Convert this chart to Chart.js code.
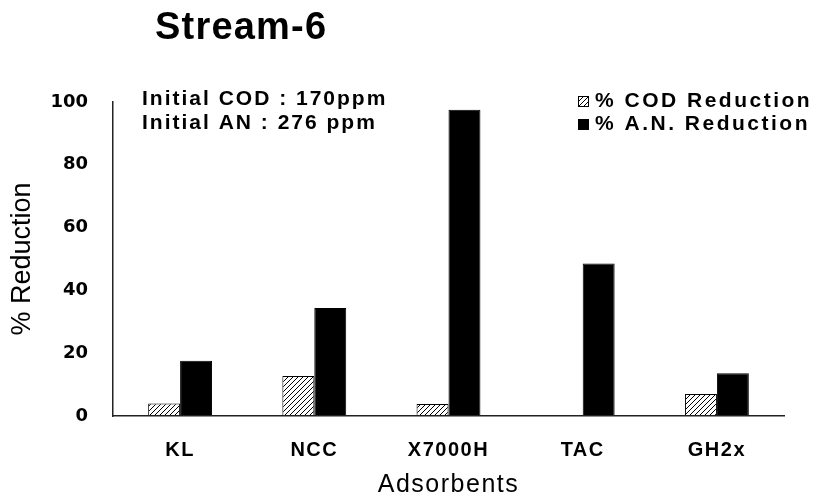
<!DOCTYPE html>
<html>
<head>
<meta charset="utf-8">
<title>Stream-6</title>
<script src="https://cdn.jsdelivr.net/npm/chart.js@4.4.1/dist/chart.umd.min.js"></script>
<style>
  html, body { margin: 0; padding: 0; background: #fff; }
  #wrap { width: 821px; height: 501px; position: relative; }
</style>
</head>
<body>
<div id="wrap"><canvas id="streamChart"></canvas></div>
<script>
const categories = ['KL', 'NCC', 'X7000H', 'TAC', 'GH2x'];
const codReduction = [4.0, 12.7, 3.8, 0, 7.0];
const anReduction = [17.6, 34.4, 97.5, 48.6, 13.6];
const yTicks = [0, 20, 40, 60, 80, 100];
const seriesLabels = ['% COD Reduction', '% A.N. Reduction'];
const chartTitle = 'Stream-6';
const noteLines = ['Initial COD : 170ppm', 'Initial AN : 276 ppm'];

// diagonal hatch like the old excel fill
function makeHatch() {
    const c = document.createElement('canvas');
    c.width = 5;
    c.height = 5;
    const g = c.getContext('2d');
    g.fillStyle = '#fff';
    g.fillRect(0, 0, 5, 5);
    g.strokeStyle = '#000';
    g.lineWidth = 1;
    g.beginPath();
    g.moveTo(0, 5); g.lineTo(5, 0);
    g.moveTo(-1, 1); g.lineTo(1, -1);
    g.moveTo(4, 6); g.lineTo(6, 4);
    g.stroke();
    return g.createPattern(c, 'repeat');
}

const hatch = makeHatch();

function spacedText(ctx, text, x, y, font, spacing) {
    ctx.save();
    ctx.font = font;
    if ('letterSpacing' in ctx) ctx.letterSpacing = spacing + 'px';
    ctx.fillStyle = '#000';
    ctx.textAlign = 'left';
    ctx.textBaseline = 'middle';
    ctx.fillText(text, x, y);
    ctx.restore();
}

const decorPlugin = {
    id: 'decor',
    afterDatasetsDraw(chart) {
        // x axis is drawn after the bars (z: 1), give its text the wide gdi look
        if ('letterSpacing' in chart.ctx) chart.ctx.letterSpacing = '1.5px';
    },
    afterDraw(chart) {
        const ctx = chart.ctx;
        if ('letterSpacing' in ctx) ctx.letterSpacing = '0px';
        spacedText(ctx, chartTitle, 155, 29, 'bold 38px "Liberation Sans", Arial, sans-serif', 1.2);
        spacedText(ctx, noteLines[0], 142, 99, 'bold 21px "Liberation Sans", Arial, sans-serif', 2);
        spacedText(ctx, noteLines[1], 142, 123, 'bold 21px "Liberation Sans", Arial, sans-serif', 2);

        // legend
        const rows = [101, 124];
        chart.data.datasets.forEach((ds, i) => {
            const y = rows[i];
            ctx.save();
            ctx.fillStyle = ds.backgroundColor;
            ctx.fillRect(578, y - 5, 11, 11);
            ctx.strokeStyle = '#000';
            ctx.lineWidth = 1;
            ctx.strokeRect(578.5, y - 4.5, 10, 10);
            ctx.restore();
            spacedText(ctx, ds.label, 595, y, 'bold 21px "Liberation Sans", Arial, sans-serif', 2.5);
        });
    }
};

const ctx = document.getElementById('streamChart').getContext('2d');

new Chart(ctx, {
    type: 'bar',
    data: {
        labels: categories,
        datasets: [
            {
                label: seriesLabels[0],
                data: codReduction,
                backgroundColor: hatch,
                borderColor: '#000',
                borderWidth: 1
            },
            {
                label: seriesLabels[1],
                data: anReduction,
                backgroundColor: '#000',
                borderColor: '#000',
                borderWidth: 1
            }
        ]
    },
    options: {
        responsive: true,
        maintainAspectRatio: false,
        animation: false,
        layout: { padding: { top: 102, right: 37, bottom: 0, left: 0 } },
        categoryPercentage: 0.476,
        barPercentage: 1,
        plugins: {
            legend: { display: false },
            tooltip: { enabled: false }
        },
        scales: {
            x: {
                grid: { display: false, drawTicks: false, z: 1 },
                border: { color: '#222', width: 1.5, z: 1 },
                ticks: {
                    z: 1,
                    color: '#000',
                    padding: 22,
                    font: { family: '"Liberation Sans", Arial, sans-serif', size: 20, weight: 'bold' }
                },
                title: {
                    display: true,
                    text: 'Adsorbents',
                    color: '#000',
                    padding: { top: 0, bottom: 1 },
                    font: { family: '"Liberation Sans", Arial, sans-serif', size: 25 }
                },
                afterFit(scale) { scale.height = 85; }
            },
            y: {
                min: 0,
                max: 100,
                grid: { display: false, drawTicks: false },
                border: { color: '#222', width: 1.5 },
                afterBuildTicks(scale) {
                    scale.ticks = yTicks.map(v => ({ value: v }));
                },
                ticks: {
                    color: '#000',
                    padding: 25,
                    font: { family: '"DejaVu Sans", sans-serif', size: 18, weight: 'bold' }
                },
                title: {
                    display: true,
                    text: '% Reduction',
                    color: '#000',
                    padding: { top: 6, bottom: 0 },
                    font: { family: '"Liberation Sans", Arial, sans-serif', size: 27 }
                },
                afterFit(scale) { scale.width = 113; }
            }
        }
    },
    plugins: [decorPlugin]
});
</script>
</body>
</html>
